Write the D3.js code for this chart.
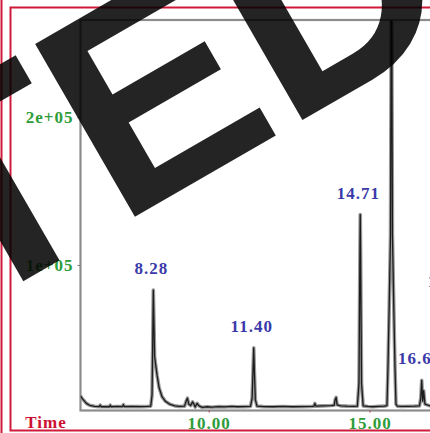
<!DOCTYPE html>
<html>
<head>
<meta charset="utf-8">
<script src="https://cdn.jsdelivr.net/npm/d3@7"></script>
<style>
  body { margin: 0; background: #fff; }
  svg { display: block; }
</style>
</head>
<body>
<div id="chart-area"></div>
<script>
// chromatogram values (time in min, abundance in counts)
const times = [6.02, 6.06, 6.12, 6.20, 6.30, 6.45, 6.60, 6.63, 6.66, 6.80, 6.92, 6.94, 6.97, 7.15, 7.32, 7.35, 7.38, 7.60, 7.90, 8.10,
  8.20, 8.24, 8.26, 8.28, 8.30, 8.32, 8.35, 8.40, 8.46, 8.55, 8.65, 8.78, 8.95, 9.10, 9.25, 9.30, 9.34, 9.38, 9.44, 9.50,
  9.54, 9.58, 9.64, 9.70, 9.80, 9.95, 10.10, 10.30, 10.50, 10.70, 10.90, 11.10, 11.30, 11.35, 11.38, 11.40, 11.42, 11.45, 11.50, 11.70,
  12.00, 12.30, 12.60, 12.90, 13.20, 13.27, 13.30, 13.33, 13.55, 13.80, 13.90, 13.93, 13.96, 13.99, 14.10, 14.30, 14.50, 14.62, 14.67, 14.70,
  14.71, 14.72, 14.75, 14.80, 14.95, 15.10, 15.30, 15.45, 15.54, 15.57, 15.60, 15.65, 15.68, 15.71, 15.76, 15.79, 15.82, 15.86, 16.00, 16.20,
  16.40, 16.55, 16.59, 16.62, 16.65, 16.68, 16.72, 16.90, 17.20, 17.45, 17.50, 17.54, 17.58, 17.65, 18.00, 18.20];
const counts = [11500, 10000, 8500, 6500, 5200, 4500, 4300, 5300, 4200, 4300, 4200, 5300, 4200, 4400, 4300, 5600, 4300, 4400, 4300, 4400,
  4600, 12000, 45000, 83000, 60000, 38000, 33000, 25000, 17000, 11000, 8000, 6000, 4800, 4400, 4600, 8000, 10000, 6000, 5000, 7500,
  6000, 4000, 6500, 4800, 3800, 4200, 3900, 4300, 4100, 4400, 4200, 4300, 4400, 10000, 30000, 44000, 28000, 9000, 4600, 4300,
  4200, 4400, 4200, 4300, 4400, 4500, 6500, 4600, 4800, 5000, 5200, 9000, 10500, 5500, 4800, 4600, 4500, 4600, 20000, 110000,
  134000, 110000, 20000, 4800, 4400, 4200, 4500, 4600, 5000, 30000, 62000, 120000, 330000, 120000, 62000, 30000, 6000, 4600, 4400, 4500,
  4600, 4800, 10000, 22000, 8000, 15000, 6000, 4600, 4500, 4800, 20000, 74000, 25000, 5000, 4500, 4400];

const peakTimes = [8.28, 11.40, 14.71, 16.62, 17.54];
const peakLabels = ['8.28', '11.40', '14.71', '16.62', '17.54'];

const xTicks = [10, 15];
const xTickLabels = ['10.00', '15.00'];
const yTicks = [100000, 200000];
const yTickLabels = ['1e+05', '2e+05'];

const xTitle = 'Time';
const watermark = 'RETRACTED';

const width = 430, height = 433;
const plot = { left: 80.5, top: 20, right: 470, bottom: 410.5 };
const serif = '"Liberation Serif", "DejaVu Serif", serif';

const svg = d3.select('#chart-area')
  .append('svg')
    .attr('width', width)
    .attr('height', height);

// SCALES
const xScale = d3.scaleLinear()
  .domain([6.017, 18.12])
  .range([plot.left, plot.right]);

const yScale = d3.scaleLinear()
  .domain([2000, 265500])
  .range([plot.bottom - 0.5, plot.top]);

// red frame round the figure
svg.append('line')
  .attr('x1', 1.5).attr('x2', 1.5)
  .attr('y1', 0).attr('y2', height)
  .attr('stroke', '#d01a3a').attr('stroke-width', 2);

svg.append('rect')
  .attr('x', 10.5).attr('y', 7.5)
  .attr('width', 500).attr('height', 423)
  .attr('fill', 'none')
  .attr('stroke', '#d01a3a').attr('stroke-width', 2);

// plot frame
svg.append('rect')
  .attr('x', plot.left).attr('y', plot.top)
  .attr('width', plot.right - plot.left).attr('height', plot.bottom - plot.top)
  .attr('fill', 'none')
  .attr('stroke', '#8c8c8c').attr('stroke-width', 2.2);

svg.append('clipPath').attr('id', 'plot-clip')
  .append('rect')
    .attr('x', plot.left).attr('y', plot.top)
    .attr('width', plot.right - plot.left).attr('height', plot.bottom - plot.top);

// AXES (only labels + tiny ticks, like the instrument printout)
const yAxisCall = d3.axisLeft(yScale)
  .tickValues(yTicks)
  .tickSize(3)
  .tickFormat((d, i) => yTickLabels[i]);

const yAxisGroup = svg.append('g')
  .attr('transform', `translate(${plot.left},0)`)
  .call(yAxisCall);
yAxisGroup.select('.domain').remove();
yAxisGroup.selectAll('line').attr('stroke', '#777');
yAxisGroup.selectAll('text')
  .attr('x', -7)
  .attr('dy', '0.35em')
  .attr('fill', '#2e9c3a')
  .attr('font-family', serif)
  .attr('font-weight', 'bold')
  .attr('font-size', 17)
  .attr('letter-spacing', 1);

const xAxisCall = d3.axisBottom(xScale)
  .tickValues(xTicks)
  .tickSize(2)
  .tickFormat((d, i) => xTickLabels[i]);

const xAxisGroup = svg.append('g')
  .attr('transform', `translate(0,${plot.bottom})`)
  .call(xAxisCall);
xAxisGroup.select('.domain').remove();
xAxisGroup.selectAll('line').attr('stroke', '#b03040');
xAxisGroup.selectAll('text')
  .attr('y', 18)
  .attr('dy', 0)
  .attr('fill', '#2e9c3a')
  .attr('font-family', serif)
  .attr('font-weight', 'bold')
  .attr('font-size', 17)
  .attr('letter-spacing', 1);

svg.append('text')
  .attr('x', 46)
  .attr('y', 428)
  .attr('text-anchor', 'middle')
  .attr('fill', '#cc1133')
  .attr('font-family', serif)
  .attr('font-weight', 'bold')
  .attr('font-size', 17)
  .attr('letter-spacing', 1)
  .text(xTitle);

// TRACE
const trace = times.map((t, i) => ({ t: t, v: counts[i] }));
const line = d3.line()
  .x(d => xScale(d.t))
  .y(d => yScale(d.v));

const plotG = svg.append('g').attr('clip-path', 'url(#plot-clip)');

plotG.append('path')
  .datum(trace)
  .attr('d', line)
  .attr('fill', 'none')
  .attr('stroke', '#9a9a9a')
  .attr('stroke-width', 3.6)
  .attr('stroke-linejoin', 'round');

plotG.append('path')
  .datum(trace)
  .attr('d', line)
  .attr('fill', 'none')
  .attr('stroke', '#1c1c1c')
  .attr('stroke-width', 1.3)
  .attr('stroke-linejoin', 'round');

// peak labels
peakTimes.forEach((t, i) => {
  const v = counts[times.indexOf(t)];
  svg.append('text')
    .attr('x', xScale(t) - 2)
    .attr('y', yScale(v) - 16)
    .attr('text-anchor', 'middle')
    .attr('fill', '#3a3aaa')
    .attr('font-family', serif)
    .attr('font-weight', 'bold')
    .attr('font-size', 17)
    .attr('letter-spacing', 1)
    .text(peakLabels[i]);
});

// watermark stamped over everything
svg.append('text')
  .attr('transform', 'translate(467,25) rotate(-30)')
  .attr('text-anchor', 'end')
  .attr('font-family', '"Liberation Sans", Arial, sans-serif')
  .attr('font-weight', 'bold')
  .attr('font-size', 290)
  .style('font-kerning', 'none')
  .attr('fill', '#000')
  .attr('fill-opacity', 0.86)
  .text(watermark);
</script>
</body>
</html>
